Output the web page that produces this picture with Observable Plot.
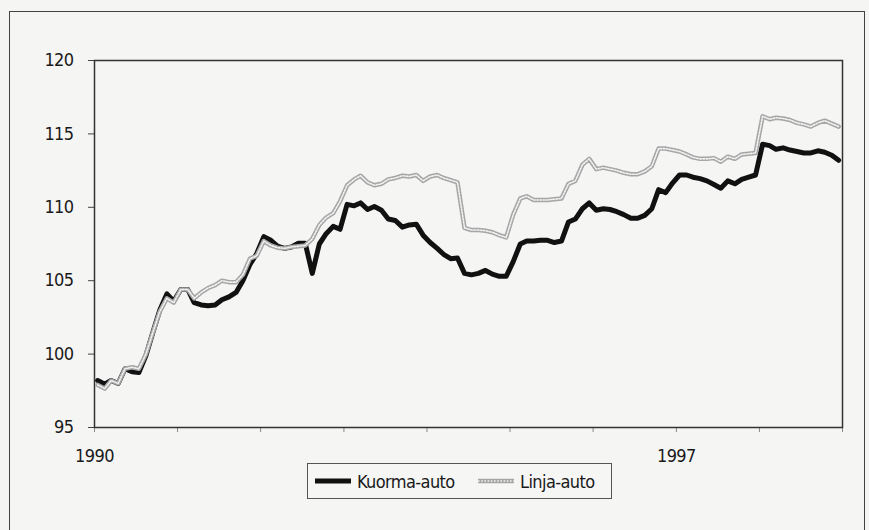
<!DOCTYPE html>
<html>
<head>
<meta charset="utf-8">
<script src="https://cdn.jsdelivr.net/npm/d3@7"></script>
<script src="https://cdn.jsdelivr.net/npm/@observablehq/plot@0.6"></script>
<style>
  html, body { margin: 0; padding: 0; background: #f5f5f4; }
  #wrap { position: relative; width: 869px; height: 530px; overflow: hidden;
          font-family: "Liberation Sans Narrow", "DejaVu Sans Condensed", "Arial Narrow", sans-serif;
          color: #1a1a1a; }
  #outer { position: absolute; left: 9px; top: 11px; width: 856px; height: 600px;
           border: 1.5px solid #444; box-sizing: border-box; }
  #chart { position: absolute; left: 0; top: 0; }
  #chart svg text { letter-spacing: -0.6px; }
  #legend { position: absolute; left: 307px; top: 463px; width: 305px; height: 36px;
            border: 1px solid #555; box-sizing: border-box; background: #f6f6f5; }
  .item { position: absolute; top: 0; height: 34px; display: flex; align-items: center; font-size: 18px; letter-spacing: -0.6px; }
  .item svg { margin-right: 6px; }
</style>
</head>
<body>
<div id="wrap">
  <div id="outer"></div>
  <div id="chart"></div>
  <div id="legend"></div>
</div>
<script>
// ---- data (monthly index, Jan 1990 - Dec 1998) ----
const startYear = 1990;
const seriesNames = ["Kuorma-auto", "Linja-auto"];
const kuorma = [
  98.2, 97.95, 98.2, 98.0, 99.0, 98.8, 98.75, 99.9, 101.5, 103.0, 104.1, 103.6,
  104.4, 104.4, 103.5, 103.35, 103.3, 103.35, 103.7, 103.9, 104.2, 105.0, 106.1, 106.85,
  108.0, 107.75, 107.35, 107.2, 107.3, 107.55, 107.55, 105.5, 107.5, 108.2, 108.7, 108.5,
  110.2, 110.1, 110.3, 109.85, 110.05, 109.8, 109.2, 109.1, 108.65, 108.8, 108.85, 108.1,
  107.6, 107.2, 106.8, 106.5, 106.55, 105.5, 105.4, 105.5, 105.7, 105.45, 105.3, 105.3,
  106.3, 107.5, 107.7, 107.7, 107.75, 107.75, 107.6, 107.7, 109.0, 109.2, 109.9, 110.3,
  109.8, 109.9, 109.85, 109.7, 109.5, 109.25, 109.25, 109.45, 109.9, 111.2, 111.0, 111.65,
  112.2, 112.2, 112.05, 111.95, 111.8, 111.55, 111.3, 111.8, 111.6, 111.9, 112.05, 112.2,
  114.3, 114.2, 113.95, 114.05, 113.9, 113.8, 113.7, 113.7, 113.85, 113.75, 113.55, 113.2
];
const linja = [
  97.9, 97.65, 98.2, 98.0, 99.0, 99.1, 99.0, 100.0, 101.5, 102.9, 103.8, 103.5,
  104.4, 104.4, 103.8, 104.2, 104.5, 104.7, 105.0, 104.9, 104.9, 105.4, 106.5, 106.7,
  107.7, 107.4, 107.25, 107.2, 107.3, 107.35, 107.4, 107.85, 108.8, 109.3, 109.6, 110.4,
  111.5, 111.9, 112.15, 111.7, 111.5, 111.6, 111.9, 112.0, 112.15, 112.1, 112.2, 111.8,
  112.1, 112.2, 112.0, 111.85, 111.7, 108.6, 108.45, 108.45, 108.4, 108.3, 108.1, 107.95,
  109.5, 110.6, 110.75, 110.5, 110.5, 110.5, 110.55, 110.6, 111.6, 111.8, 112.9, 113.3,
  112.6, 112.7, 112.6, 112.5, 112.35, 112.25, 112.25, 112.45, 112.8, 114.0, 114.0, 113.9,
  113.8, 113.6, 113.4, 113.3, 113.3, 113.35, 113.1, 113.45, 113.3, 113.6, 113.65, 113.7,
  116.2, 116.0, 116.1, 116.05, 115.95, 115.75, 115.65, 115.5, 115.75, 115.9, 115.7, 115.5
];
const yTicks = [95, 100, 105, 110, 115, 120];
const xTickLabels = ["1990", "1997"];

const toRows = (vals) => vals.map((v, i) => ({date: new Date(Date.UTC(startYear, i, 15)), value: v}));
const kRows = toRows(kuorma);
const lRows = toRows(linja);

const font = '"Liberation Sans Narrow", "DejaVu Sans Condensed", "Arial Narrow", sans-serif';

const chart = Plot.plot({
  width: 869,
  height: 530,
  marginLeft: 94,
  marginRight: 27,
  marginTop: 60,
  marginBottom: 103,
  style: {background: "transparent", fontFamily: font, fontSize: "18px", color: "#1a1a1a", overflow: "visible"},
  x: {type: "utc", domain: [new Date(Date.UTC(1990, 0, 1)), new Date(Date.UTC(1999, 0, 1))]},
  y: {domain: [95, 120]},
  marks: [
    Plot.axisY({ticks: yTicks, tickSize: 6, tickPadding: 15, label: null, stroke: "#444", fill: "#1a1a1a"}),
    Plot.axisX({ticks: d3.utcYear.every(1), tickSize: 5, tickPadding: 17, label: null, stroke: "#888",
      tickFormat: d => xTickLabels.includes(String(d.getUTCFullYear())) ? String(d.getUTCFullYear()) : "", fill: "#1a1a1a"}),
    Plot.frame({stroke: "#333", strokeWidth: 1.5}),
    Plot.line(kRows, {x: "date", y: "value", stroke: "#111", strokeWidth: 5, strokeLinejoin: "round"}),
    Plot.line(lRows, {x: "date", y: "value", stroke: "#a6a6a6", strokeWidth: 4.5, strokeLinejoin: "round"}),
    Plot.line(lRows, {x: "date", y: "value", stroke: "#f2f2f2", strokeWidth: 1.6, strokeDasharray: "1.6,1.6"})
  ]
});
document.getElementById("chart").appendChild(chart);

// ---- legend ----
const legend = document.getElementById("legend");
const swatches = [
  {name: seriesNames[0], left: 7, base: "#111", top: null, w: 5},
  {name: seriesNames[1], left: 170, base: "#a6a6a6", top: "#f2f2f2", w: 4.5}
];
swatches.forEach(s => {
  const it = document.createElement("div");
  it.className = "item";
  it.style.left = s.left + "px";
  const svg = d3.create("svg").attr("width", 36).attr("height", 10);
  svg.append("line").attr("x1", 0).attr("x2", 36).attr("y1", 5).attr("y2", 5)
    .attr("stroke", s.base).attr("stroke-width", s.w);
  if (s.top) svg.append("line").attr("x1", 0).attr("x2", 36).attr("y1", 5).attr("y2", 5)
    .attr("stroke", s.top).attr("stroke-width", 1.6).attr("stroke-dasharray", "1.6,1.6");
  it.appendChild(svg.node());
  const t = document.createElement("span");
  t.textContent = s.name;
  it.appendChild(t);
  legend.appendChild(it);
});
</script>
</body>
</html>
